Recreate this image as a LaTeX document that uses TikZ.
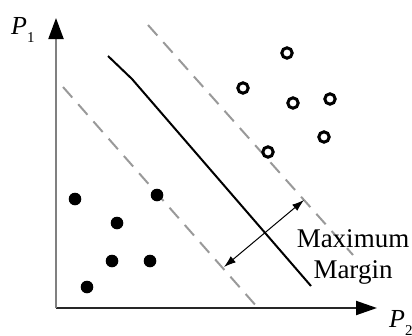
\documentclass[tikz,border=0pt]{standalone}
\usepackage{fontspec}
\setmainfont{Liberation Serif}
\usetikzlibrary{arrows.meta}
\definecolor{axisgray}{HTML}{808080}
\definecolor{dashgray}{HTML}{999999}
\begin{document}
\begin{tikzpicture}[x=1pt,y=-1pt,
  axisline/.style={line width=2pt},
  sepline/.style={line width=2pt,black},
  margline/.style={line width=2pt,dashgray,dash pattern=on 14pt off 9pt},
  filleddot/.style={fill=black},
  hollowdot/.style={draw=black,line width=3pt},
  biglab/.style={inner sep=0pt,font=\fontsize{27}{31}\selectfont},
  axlab/.style={inner sep=0pt,anchor=base west,font=\fontsize{26}{26}\selectfont}]
\useasboundingbox (0,0) rectangle (412,335);
% axes
\coordinate (O) at (56,308);
\coordinate (Ytip) at (56,18);
\coordinate (Xtip) at (377,308);
\draw[axisline,black!85,-{Triangle[length=21pt,width=14pt,color=black]}] (O) -- (Xtip);
\draw[axisline,axisgray,-{Triangle[length=21pt,width=15pt,color=black]}] (O) -- (Ytip);
\node[axlab] (p1) at (11,34) {\textit{P}\raisebox{-8pt}{\fontsize{15}{15}\selectfont 1}};
\node[axlab] (p2) at (389,327) {\textit{P}\raisebox{-8pt}{\fontsize{15}{15}\selectfont 2}};
% separating line and margins
\coordinate (s1) at (108,56);
\coordinate (s2) at (132,79);
\coordinate (s3) at (311,286);
\draw[sepline] (s1) .. controls (120,67) .. (s2) -- (s3);
\coordinate (la) at (63,87);
\coordinate (lb) at (258,308);
\coordinate (ra) at (148,25);
\coordinate (rb) at (353,255);
\draw[margline] (la) -- (lb);
\draw[margline] (ra) -- (rb);
% margin arrow
\coordinate (ma) at (224,267);
\coordinate (mb) at (304,200);
\draw[line width=1pt,{Latex[length=12pt,width=8pt]}-{Latex[length=12pt,width=8pt]}] (ma) -- (mb);
\node[biglab,anchor=base] (mx) at (353,247) {Maximum};
\node[biglab,anchor=base] (mg) at (353,278) {Margin};
% filled points
\foreach \p in {(75,199),(157,195),(117,223),(112,261),(150,261),(87,287)}
  \fill[filleddot] \p circle (6.3pt);
% hollow points
\foreach \p in {(287,53),(243,88),(293,103),(330,99),(324,137),(268,152)}
  \draw[hollowdot] \p circle (5.2pt);
\end{tikzpicture}
\end{document}
